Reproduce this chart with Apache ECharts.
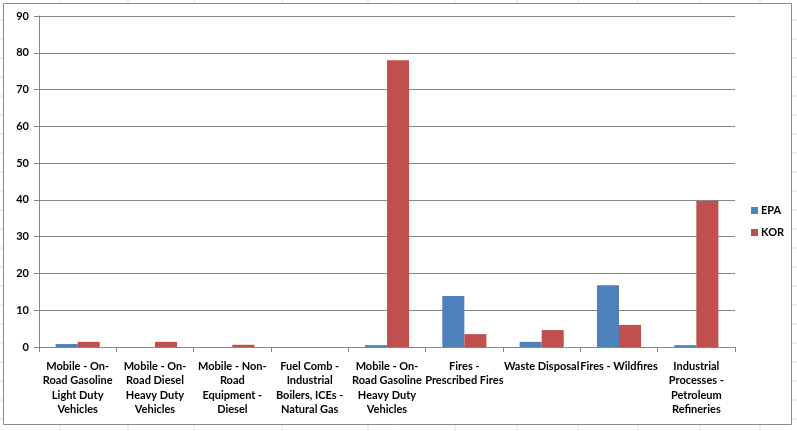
<!DOCTYPE html>
<html>
<head>
<meta charset="utf-8">
<script src="https://cdn.jsdelivr.net/npm/echarts@6/dist/echarts.min.js"></script>
<style>
html,body{margin:0;padding:0;background:#fff;}
#c{width:797px;height:431px;}
</style>
</head>
<body>
<div id="c"></div>
<script>
const categories = [
  "Mobile - On-\nRoad Gasoline\nLight Duty\nVehicles",
  "Mobile - On-\nRoad Diesel\nHeavy Duty\nVehicles",
  "Mobile - Non-\nRoad\nEquipment -\nDiesel",
  "Fuel Comb -\nIndustrial\nBoilers, ICEs -\nNatural Gas",
  "Mobile - On-\nRoad Gasoline\nHeavy Duty\nVehicles",
  "Fires -\nPrescribed Fires",
  "Waste Disposal",
  "Fires - Wildfires",
  "Industrial\nProcesses -\nPetroleum\nRefineries"
];
const epaValues = [0.8, 0, 0, 0, 0.5, 13.9, 1.4, 16.8, 0.5];
const korValues = [1.4, 1.4, 0.6, 0, 78, 3.5, 4.6, 6.0, 39.7];
const yTicks = { min: 0, max: 90, interval: 10 };

const chart = echarts.init(document.getElementById('c'), null, {renderer: 'canvas'});

const gridFaint = [];
const rowYs = [20, 39, 58, 77, 96, 115, 134, 153, 172, 191, 210, 229, 248, 267, 286, 305, 324, 343, 362, 381, 400, 419];
rowYs.forEach(y => {
  gridFaint.push({type: 'line', shape: {x1: 0, y1: y, x2: 3, y2: y}, style: {stroke: '#dcdcdc', lineWidth: 1}, silent: true});
  gridFaint.push({type: 'line', shape: {x1: 792, y1: y, x2: 797, y2: y}, style: {stroke: '#dcdcdc', lineWidth: 1}, silent: true});
});
const colXs = [60, 128, 194, 282, 368, 455, 517, 578, 638, 700, 760];
colXs.forEach(x => {
  gridFaint.push({type: 'line', shape: {x1: x, y1: 425, x2: x, y2: 431}, style: {stroke: '#dcdcdc', lineWidth: 1}, silent: true});
  gridFaint.push({type: 'line', shape: {x1: x, y1: 0, x2: x, y2: 3}, style: {stroke: '#dcdcdc', lineWidth: 1}, silent: true});
});

const fontFam = 'Lato, "Open Sans", sans-serif';

chart.setOption({
  animation: false,
  backgroundColor: '#ffffff',
  graphic: gridFaint.concat([
    {type: 'rect', shape: {x: 3.5, y: 3.5, width: 788, height: 421}, style: {fill: 'none', stroke: '#8a8a8a', lineWidth: 1}, silent: true}
  ]),
  grid: {left: 39, right: 62, top: 16, bottom: 84, containLabel: false},
  legend: {
    orient: 'vertical',
    left: 746,
    top: 200,
    itemWidth: 7,
    itemHeight: 7,
    itemGap: 11,
    icon: 'rect',
    textStyle: {fontFamily: fontFam, fontWeight: 'bold', fontSize: 11, color: '#000', padding: [0, 0, 0, -2]},
    data: ['EPA', 'KOR']
  },
  xAxis: {
    type: 'category',
    data: categories,
    axisLine: {show: true, lineStyle: {color: '#868686', width: 1}},
    axisTick: {show: true, length: 5, lineStyle: {color: '#868686'}, alignWithLabel: false},
    axisLabel: {interval: 0, margin: 12, fontFamily: fontFam, fontWeight: 'bold', fontSize: 11, color: '#000', lineHeight: 14.5, align: 'center'},
    splitLine: {show: false}
  },
  yAxis: {
    type: 'value',
    min: yTicks.min,
    max: yTicks.max,
    interval: yTicks.interval,
    axisLine: {show: true, lineStyle: {color: '#868686', width: 1}},
    axisTick: {show: true, length: 5, lineStyle: {color: '#868686'}},
    axisLabel: {margin: 10, fontFamily: fontFam, fontWeight: 'bold', fontSize: 11, color: '#000'},
    splitLine: {show: true, lineStyle: {color: '#868686', width: 1}}
  },
  series: [
    {name: 'EPA', type: 'bar', data: epaValues, barGap: '0%', barCategoryGap: '43%', itemStyle: {color: '#4F81BD'}},
    {name: 'KOR', type: 'bar', data: korValues, barGap: '0%', barCategoryGap: '43%', itemStyle: {color: '#C0504D'}}
  ]
});
</script>
</body>
</html>
